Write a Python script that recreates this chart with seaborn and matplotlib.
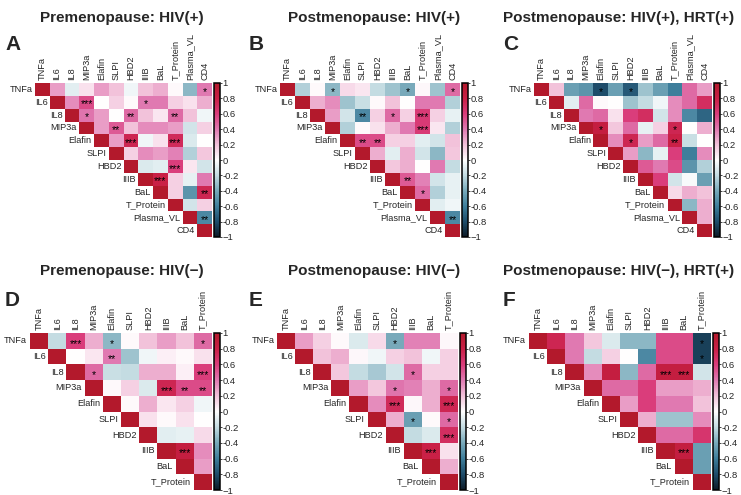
import numpy as np
import pandas as pd
import matplotlib
matplotlib.use("Agg")
import matplotlib.pyplot as plt
import seaborn as sns
from matplotlib.colors import LinearSegmentedColormap

# === VARIABLES ===
vars_pos = ["TNFa", "IL6", "IL8", "MIP3a", "Elafin", "SLPI", "HBD2", "IIIB",
            "BaL", "T_Protein", "Plasma_VL", "CD4"]
vars_neg = vars_pos[:10]

titles = ["Premenopause: HIV(+)", "Postmenopause: HIV(+)", "Postmenopause: HIV(+), HRT(+)",
          "Premenopause: HIV(\u2212)", "Postmenopause: HIV(\u2212)", "Postmenopause: HIV(\u2212), HRT(+)"]
letters = ["A", "B", "C", "D", "E", "F"]

# === CORRELACIONES: triangulo superior, fila por fila (sin diagonal) ===
corr_A = [
    [0.30, -0.10, 0.10, 0.30, 0.20, -0.05, 0.20, 0.25, 0.02, -0.35, 0.40],
    [0.35, 0.55, 0.00, 0.15, 0.02, 0.40, 0.40, 0.15, 0.10, 0.25],
    [0.42, 0.30, 0.00, 0.45, 0.20, 0.08, 0.45, 0.20, -0.05],
    [0.30, 0.50, 0.20, 0.35, 0.35, 0.30, -0.15, 0.15],
    [0.30, 0.75, -0.05, 0.10, 0.72, -0.12, 0.00],
    [0.15, 0.35, 0.30, 0.38, -0.25, 0.18],
    [-0.12, -0.10, 0.60, 0.08, -0.15],
    [0.80, 0.15, -0.08, 0.40],
    [0.15, -0.50, 0.75],
    [-0.15, 0.15],
    [-0.55],
]
corr_B = [
    [-0.25, 0.02, -0.35, 0.12, 0.08, -0.20, -0.30, -0.40, 0.03, -0.30, 0.45],
    [0.25, 0.35, -0.30, -0.18, 0.02, 0.20, 0.00, 0.40, 0.40, -0.25],
    [0.30, -0.15, -0.55, 0.15, 0.45, 0.15, 0.62, 0.15, -0.08],
    [-0.25, 0.02, 0.10, 0.25, 0.40, 0.62, 0.08, -0.25],
    [0.55, 0.55, 0.15, 0.15, -0.10, -0.15, 0.20],
    [0.25, -0.10, 0.25, -0.15, -0.35, 0.18],
    [0.18, 0.25, 0.00, 0.40, -0.20],
    [0.50, 0.38, -0.15, -0.08],
    [0.45, -0.25, -0.08],
    [-0.10, -0.05],
    [-0.55],
]
corr_C = [
    [0.20, -0.45, -0.50, -0.80, -0.45, -0.75, -0.30, -0.45, -0.60, 0.45, 0.30],
    [-0.10, 0.45, 0.02, 0.00, -0.30, -0.20, -0.05, 0.35, 0.45, 0.70],
    [0.40, 0.45, 0.10, 0.60, 0.70, -0.15, 0.35, -0.55, -0.70],
    [0.85, 0.18, 0.45, -0.08, 0.15, 0.75, 0.00, 0.25],
    [0.35, 0.75, 0.30, 0.45, 0.80, -0.18, 0.00],
    [0.30, -0.35, -0.08, 0.60, -0.60, 0.35],
    [0.50, 0.40, 0.55, -0.50, -0.25],
    [0.60, -0.15, -0.03, -0.45],
    [0.12, 0.25, 0.20],
    [-0.35, 0.25],
    [0.25],
]
corr_D = [
    [-0.20, 0.60, 0.25, -0.35, 0.02, 0.20, 0.30, 0.20, 0.45],
    [0.00, 0.08, 0.40, -0.30, -0.05, 0.05, 0.02, 0.10],
    [0.45, -0.18, -0.20, 0.25, 0.25, 0.05, 0.60],
    [0.02, 0.15, -0.12, 0.75, 0.55, 0.55],
    [0.02, 0.25, 0.08, 0.15, -0.05],
    [0.10, 0.02, 0.10, 0.00],
    [-0.10, -0.08, 0.12],
    [0.85, 0.35],
    [0.30],
]
corr_E = [
    [0.30, 0.15, 0.02, -0.12, 0.12, -0.40, 0.38, 0.38, 0.03],
    [0.20, 0.25, 0.03, -0.05, 0.15, 0.20, -0.05, 0.15],
    [0.18, -0.20, -0.28, -0.15, 0.45, 0.15, 0.15],
    [0.30, 0.18, 0.42, 0.38, 0.25, 0.45],
    [0.35, 0.72, 0.03, 0.25, 0.75],
    [0.25, -0.45, 0.02, 0.45],
    [-0.20, -0.12, 0.70],
    [0.80, 0.10],
    [0.25],
]
corr_F = [
    [0.75, 0.40, 0.18, -0.12, -0.35, -0.35, 0.55, 0.55, -0.85],
    [0.40, -0.20, 0.15, 0.00, -0.55, 0.55, 0.55, -0.85],
    [0.35, 0.85, -0.35, 0.45, 0.85, 0.85, -0.15],
    [0.45, 0.45, 0.60, 0.30, 0.30, 0.25],
    [0.30, 0.60, 0.40, 0.40, 0.20],
    [0.25, -0.30, -0.30, 0.35],
    [0.45, 0.45, 0.65],
    [0.85, -0.45],
    [-0.45],
]

# === SIGNIFICANCIA ===
stars_A = [("TNFa", "CD4", "*"), ("IL6", "MIP3a", "***"), ("IL6", "IIIB", "*"),
           ("IL8", "MIP3a", "*"), ("IL8", "HBD2", "**"), ("IL8", "T_Protein", "**"),
           ("MIP3a", "SLPI", "**"), ("Elafin", "HBD2", "***"), ("Elafin", "T_Protein", "***"),
           ("HBD2", "T_Protein", "***"), ("IIIB", "BaL", "***"), ("BaL", "CD4", "**"),
           ("Plasma_VL", "CD4", "**")]
stars_B = [("TNFa", "MIP3a", "*"), ("TNFa", "BaL", "*"), ("TNFa", "CD4", "*"),
           ("IL8", "SLPI", "**"), ("IL8", "IIIB", "*"), ("IL8", "T_Protein", "***"),
           ("MIP3a", "T_Protein", "***"), ("Elafin", "SLPI", "**"), ("Elafin", "HBD2", "**"),
           ("IIIB", "BaL", "**"), ("BaL", "T_Protein", "*"), ("Plasma_VL", "CD4", "**")]
stars_C = [("TNFa", "Elafin", "*"), ("TNFa", "HBD2", "*"), ("MIP3a", "Elafin", "*"),
           ("MIP3a", "T_Protein", "*"), ("Elafin", "HBD2", "*"), ("Elafin", "T_Protein", "**")]
stars_D = [("TNFa", "IL8", "***"), ("TNFa", "Elafin", "*"), ("TNFa", "T_Protein", "*"),
           ("IL6", "Elafin", "**"), ("IL8", "MIP3a", "*"), ("IL8", "T_Protein", "***"),
           ("MIP3a", "IIIB", "***"), ("MIP3a", "BaL", "**"), ("MIP3a", "T_Protein", "**"),
           ("IIIB", "BaL", "***")]
stars_E = [("TNFa", "HBD2", "*"), ("IL8", "IIIB", "*"), ("MIP3a", "HBD2", "*"),
           ("MIP3a", "T_Protein", "*"), ("Elafin", "HBD2", "***"), ("Elafin", "T_Protein", "***"),
           ("SLPI", "IIIB", "*"), ("SLPI", "T_Protein", "*"), ("HBD2", "T_Protein", "***"),
           ("IIIB", "BaL", "***")]
stars_F = [("TNFa", "T_Protein", "*"), ("IL6", "T_Protein", "*"), ("IL8", "IIIB", "***"),
           ("IL8", "BaL", "***"), ("IIIB", "BaL", "***")]

paneles = [(corr_A, stars_A, vars_pos), (corr_B, stars_B, vars_pos), (corr_C, stars_C, vars_pos),
           (corr_D, stars_D, vars_neg), (corr_E, stars_E, vars_neg), (corr_F, stars_F, vars_neg)]

# === POSICIONES (pixeles: x0, y0, x1, y1 de la matriz) ===
W, H = 741, 495
caja = [(35, 83, 212, 237), (280, 83, 460, 237), (534, 83, 712, 237),
        (30, 333, 212, 490), (277, 333, 458, 490), (529, 333, 711, 490)]
titulo_xy = [(122, 18), (374, 18), (619, 18), (122, 271), (374, 271), (619, 271)]
letra_xy = [(5, 45), (249, 45), (503, 45), (5, 301), (249, 301), (503, 301)]

cmap = LinearSegmentedColormap.from_list("corr", [
    (0.0, "#0c1a26"), (0.1, "#1e4d6b"), (0.2, "#3e7e9b"), (0.3, "#79aabb"),
    (0.4, "#c4dce2"), (0.5, "#ffffff"), (0.6, "#f2c2da"), (0.7, "#e07ab2"),
    (0.8, "#da3d7b"), (0.9, "#ca2047"), (1.0, "#b3192c")])


def matriz(filas, labels):
    n = len(labels)
    m = np.eye(n)
    for i, fila in enumerate(filas):
        m[i, i + 1:] = fila
    m = m + np.triu(m, 1).T
    return pd.DataFrame(m, index=labels, columns=labels)


def estrellas(lista, labels):
    a = pd.DataFrame("", index=labels, columns=labels)
    for r, c, s in lista:
        a.loc[r, c] = s
    return a


sns.set_style("white")
plt.rcParams['font.family'] = ['Liberation Sans', 'DejaVu Sans']

fig = plt.figure(figsize=(W / 100, H / 100), dpi=100)

ticks = np.round(np.arange(-1, 1.01, 0.2), 1)
tick_lab = ["\u22121" if t == -1 else ("0" if t == 0 else ("1" if t == 1 else f"{t:g}")) for t in ticks]

for k, (filas, lista, labels) in enumerate(paneles):
    x0, y0, x1, y1 = caja[k]
    n = len(labels)
    ax = fig.add_axes([x0 / W, 1 - y1 / H, (x1 - x0) / W, (y1 - y0) / H])
    cax = fig.add_axes([(x1 + 1.5) / W, 1 - y1 / H, 6 / W, (y1 - y0) / H])
    df = matriz(filas, labels)
    mask = np.tril(np.ones((n, n), dtype=bool), k=-1)
    sns.heatmap(df, mask=mask, cmap=cmap, vmin=-1, vmax=1,
                annot=estrellas(lista, labels), fmt="",
                annot_kws={"fontsize": 7.5, "color": "black"},
                ax=ax, cbar_ax=cax, xticklabels=True, yticklabels=False)
    for t in ax.texts:
        x, y = t.get_position()
        t.set_position((x, y + 0.18))
    ax.xaxis.tick_top()
    ax.set_xticklabels(labels, rotation=90, fontsize=6.6)
    ax.tick_params(axis="x", length=0, pad=2)
    ax.set_xlabel("")
    ax.set_ylabel("")
    for i, lab in enumerate(labels):
        ax.text(i - 0.15, i + 0.5, lab, ha="right", va="center", fontsize=6.6)

    cbar = ax.collections[0].colorbar
    cbar.set_ticks(ticks)
    cbar.set_ticklabels(tick_lab)
    cbar.outline.set_edgecolor("black")
    cbar.outline.set_linewidth(1.1)
    cax.tick_params(labelsize=6.8, length=1.5, width=0.6, pad=0.8)

    tx, ty = titulo_xy[k]
    fig.text(tx / W, 1 - ty / H, titles[k], ha="center", va="center",
             fontsize=11, fontweight="bold")
    lx, ly = letra_xy[k]
    fig.text(lx / W, 1 - ly / H, letters[k], ha="left", va="center",
             fontsize=15, fontweight="bold")

fig.savefig("out.png", dpi=100)
